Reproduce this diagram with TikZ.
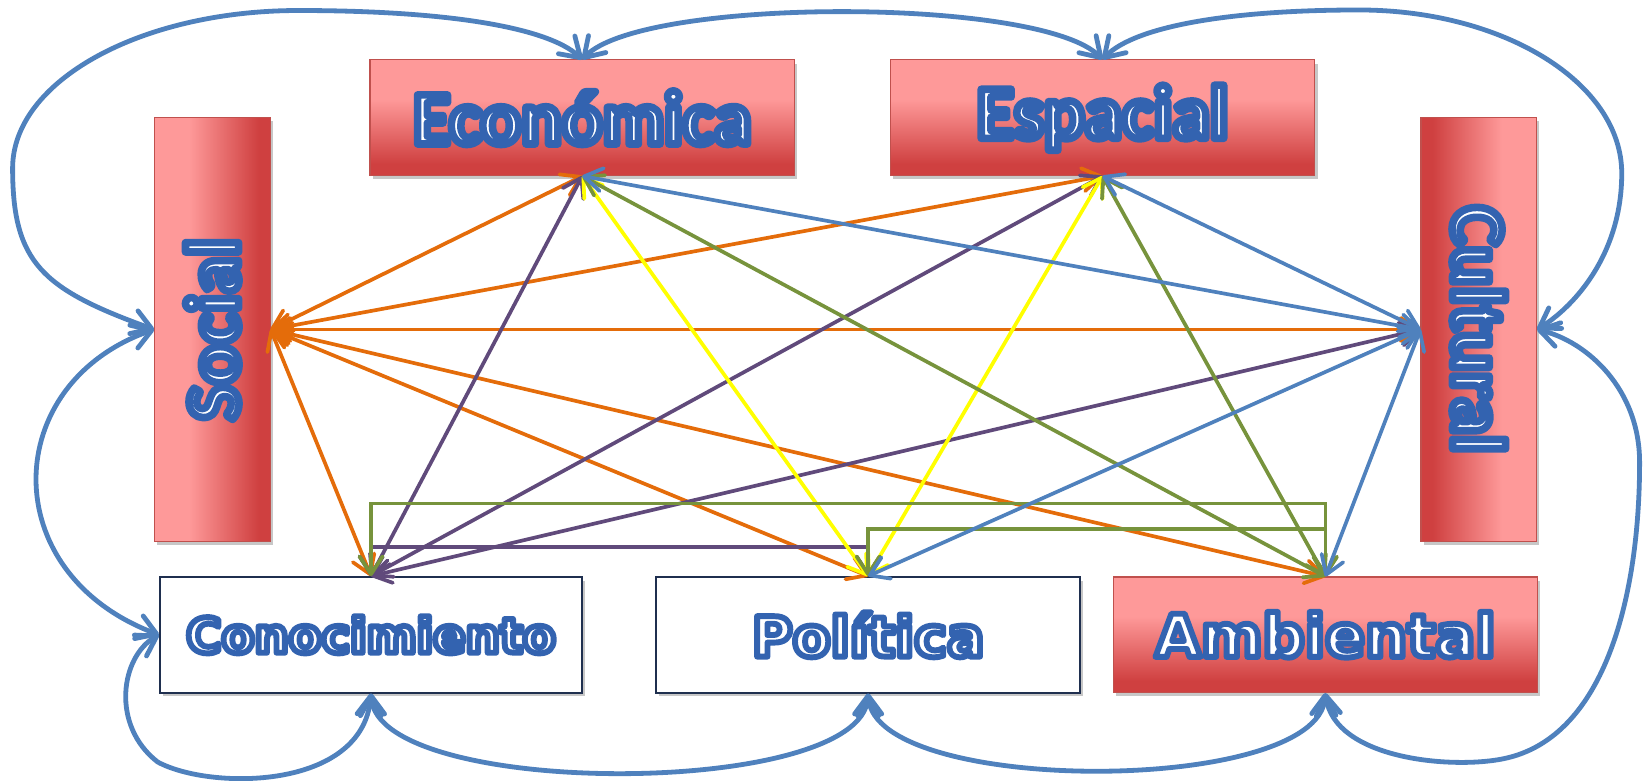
\documentclass[tikz,border=0pt]{standalone}
\usepackage{fontspec}
\usepackage{graphicx}
\usepackage{xcolor}
\usetikzlibrary{arrows.meta,shadows}

\newfontfamily\topfont{Carlito}
\newfontfamily\lowfont{DejaVu Sans}

\definecolor{redL}{RGB}{254,153,153}
\definecolor{redD}{RGB}{207,64,64}
\definecolor{redE}{RGB}{192,80,77}
\definecolor{navyE}{RGB}{31,47,79}
\definecolor{orangeL}{RGB}{228,108,10}
\definecolor{purpleL}{RGB}{96,74,123}
\definecolor{yellowL}{RGB}{255,255,0}
\definecolor{blueL}{RGB}{79,129,189}
\definecolor{greenL}{RGB}{119,147,60}

% red fills of the boxes
\pgfdeclareverticalshading{redvert}{100bp}{color(0bp)=(redD); color(25bp)=(redD); color(30bp)=(redD); color(58bp)=(redL); color(75bp)=(redL); color(100bp)=(redL)}
\pgfdeclarehorizontalshading{redleft}{100bp}{color(0bp)=(redL); color(25bp)=(redL); color(40bp)=(redL); color(70bp)=(redD); color(75bp)=(redD); color(100bp)=(redD)}
\pgfdeclarehorizontalshading{redright}{100bp}{color(0bp)=(redD); color(25bp)=(redD); color(30bp)=(redD); color(60bp)=(redL); color(75bp)=(redL); color(100bp)=(redL)}

% outlined word art text
\newcommand\artword[2]{\special{pdf:literal direct 2 Tr #1 w 1 j 0.2 0.39 0.69 RG}#2\special{pdf:literal direct 0 Tr}}
\newcommand\toplabel[1]{\topfont\bfseries\fontsize{41}{41}\selectfont\artword{4.1}{#1}}
\newcommand\lowlabel[2]{\lowfont\bfseries\fontsize{#1}{#1}\selectfont\artword{3.2}{#2}}

\begin{document}
\begin{tikzpicture}[x=0.02cm,y=0.02cm]
\tikzstyle{every node}+=[inner sep=0pt]
\tikzstyle{boxshadow}=[drop shadow={shadow xshift=1.5pt,shadow yshift=-2pt,opacity=0.22,fill=black}]
\tikzstyle{widebox}=[draw=redE, line width=0.6pt, minimum width=8.08cm, minimum height=2.2cm, shade, shading=redvert, text=white, boxshadow]
\tikzstyle{tallbox}=[draw=redE, line width=0.6pt, minimum width=2.2cm, minimum height=8.06cm, shade, text=white, boxshadow]
\tikzstyle{whitebox}=[draw=navyE, line width=1pt, fill=white, minimum height=2.2cm, text=white, boxshadow]
\tikzstyle{link}=[line width=2pt, <->, >={Straight Barb[length=3.4mm,width=4.4mm,round]}]
\tikzstyle{outer}=[blueL, line width=2.6pt, <->, >={Straight Barb[length=3.6mm,width=4.6mm,round]}]
\useasboundingbox (0,0) rectangle (1568,-743);

% boxes
\node [widebox] (eco) at (554,-112) {\toplabel{Económica}};
\node [widebox] (esp) at (1049,-112) {\toplabel{Espacial}};
\node [tallbox, shading=redleft] (soc) at (202,-313.5) {\rotatebox{90}{\toplabel{Social}}};
\node [tallbox, shading=redright] (cul) at (1407,-313.5) {\rotatebox{-90}{\toplabel{Cultural}}};
\node [whitebox, minimum width=8.04cm] (kno) at (353,-604) {\lowlabel{26}{Conocimiento}};
\node [whitebox, minimum width=8.08cm] (pol) at (826,-604) {\lowlabel{30}{Política}};
\node [widebox] (amb) at (1261,-604) {\lowlabel{32}{Ambiental}};

% social links
\draw [link, orangeL] (soc.east) -- (eco.south);
\draw [link, orangeL] (soc.east) -- (esp.south);
\draw [link, orangeL] (soc.east) -- (cul.west);
\draw [link, orangeL] (soc.east) -- (kno.north);
\draw [link, orangeL] (soc.east) -- (pol.north);
\draw [link, orangeL] (soc.east) -- (amb.north);
% conocimiento links
\draw [link, purpleL] (kno.north) -- (eco.south);
\draw [link, purpleL] (kno.north) -- (esp.south);
\draw [link, purpleL] (kno.north) -- (cul.west);
\draw [link, purpleL] (kno.north) -- ++(0,28) -| (pol.north);
% politica links
\draw [link, yellowL] (pol.north) -- (eco.south);
\draw [link, yellowL] (pol.north) -- (esp.south);
% ambiental links
\draw [link, greenL] (amb.north) -- (eco.south);
\draw [link, greenL] (amb.north) -- (esp.south);
\draw [link, greenL] (kno.north) -- ++(0,69) -| (amb.north);
\draw [link, greenL] (pol.north) -- ++(0,45) -| (amb.north);
% cultural links
\draw [link, blueL] (cul.west) -- (eco.south);
\draw [link, blueL] (cul.west) -- (esp.south);
\draw [link, blueL] (cul.west) -- (pol.north);
\draw [link, blueL] (cul.west) -- (amb.north);

% outer ring
\draw [outer] (soc.west) .. controls (40,-275) and (12,-250) .. (12,-160)
  .. controls (12,-77) and (134,-10) .. (284,-10)
  .. controls (420,-10) and (520,-25) .. (eco.north);
\draw [outer] (eco.north) .. controls (612,3) and (990,3) .. (esp.north);
\draw [outer] (esp.north) .. controls (1080,-25) and (1170,-9.5) .. (1293,-9.5)
  .. controls (1431,-9.5) and (1543,-79) .. (1543,-165)
  .. controls (1543,-240) and (1500,-290) .. (cul.east);
\draw [outer] (soc.west) .. controls (0,-365) and (-5,-545) .. (kno.west);
\draw [outer] (kno.west) .. controls (115,-625) and (105,-690) .. (150,-725)
  .. controls (200,-752) and (345,-752) .. (kno.south);
\draw [outer] (kno.south) .. controls (360,-760) and (819,-760) .. (pol.south);
\draw [outer] (pol.south) .. controls (833,-757) and (1254,-757) .. (amb.south);
\draw [outer] (amb.south) .. controls (1270,-722) and (1380,-732) .. (1430,-722)
  .. controls (1530,-702) and (1560,-560) .. (1560,-440)
  .. controls (1560,-370) and (1510,-325) .. (cul.east);
\end{tikzpicture}
\end{document}
